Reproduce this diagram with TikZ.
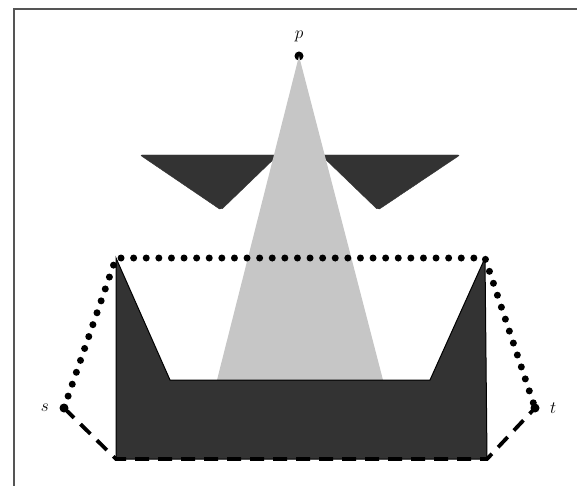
\documentclass[tikz,border=0pt]{standalone}
\usetikzlibrary{positioning}

\definecolor{tmava}{HTML}{333333}
\definecolor{svetla}{HTML}{C6C6C6}
\definecolor{ramecek}{HTML}{555555}

\tikzstyle{every node}=[font=\fontsize{16pt}{19pt}\selectfont]
\tikzstyle{bod}=[circle, fill=black, inner sep=0pt, minimum size=9pt]
\tikzstyle{tecky}=[line width=7pt, line cap=round, dash pattern=on 0pt off 12.6pt]
\tikzstyle{carky}=[line width=3.8pt, dash pattern=on 14pt off 9pt]

\begin{document}
\begin{tikzpicture}[x=1pt,y=-1pt]
	            % Okraje obrázku
	            \useasboundingbox (0,0) rectangle (577,486);
	            \draw[ramecek, line width=2pt] (14,486) -- (14,9) -- (577,9);

	            % Body
	            \node[bod] (p) at (299,56) {};
	            \node[bod] (s) at (64,408) {};
	            \node[bod] (t) at (535,408) {};
	            \node[above=6pt of p] (lp) {$p$};
	            \node[left=7pt of s] (ls) {$s$};
	            \node[right=7pt of t] (lt) {$t$};

	            % Rohy překážky
	            \coordinate (hl) at (116,258);
	            \coordinate (hp) at (485,258);
	            \coordinate (dl) at (116,459);
	            \coordinate (dp) at (487,459);
	            \coordinate (vl) at (170,380);
	            \coordinate (vp) at (430,380);

	            % Trojúhelníky nahoře
	            \filldraw[tmava, rounded corners=2pt] (140,155) -- (278,155) -- (221,210) -- cycle;
	            \filldraw[tmava, rounded corners=2pt] (321,155) -- (460,155) -- (378,210) -- cycle;

	            % Světelný kužel z bodu p
	            \fill[svetla] (p.center) -- (217,380) -- (383,380) -- cycle;

	            % Spodní překážka
	            \filldraw[fill=tmava, draw=black, line width=1pt] (hl) -- (vl) -- (vp) -- (hp) -- (dp) -- (dl) -- cycle;

	            % Cesty z s do t
	            \draw[carky] (s.center) -- (dl) -- (dp) -- (t.center);
	            \draw[tecky] (s.center) -- (hl) -- (hp) -- (t.center);
	        \end{tikzpicture}
\end{document}
